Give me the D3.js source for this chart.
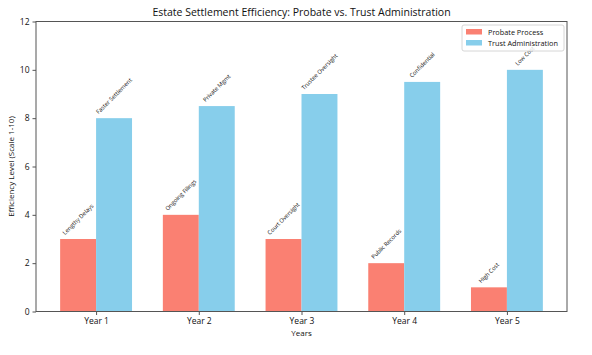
<!DOCTYPE html>
<html><head><meta charset="utf-8">
<script src="https://cdn.jsdelivr.net/npm/d3@7/dist/d3.min.js"></script>
<style>body{margin:0;background:#fff}svg{display:block;font-family:"Open Sans",Roboto,sans-serif}</style>
</head><body>
<svg id="c" width="592" height="355"></svg>
<script>
const categories = ["Year 1","Year 2","Year 3","Year 4","Year 5"];
const probateValues = [3,4,3,2,1];
const trustValues = [8,8.5,9,9.5,10];
const probateLabels = ["Lengthy Delays","Ongoing Filings","Court Oversight","Public Records","High Cost"];
const trustLabels = ["Faster Settlement","Private Mgmt","Trustee Oversight","Confidential","Low Cost"];
const yTicks = [0,2,4,6,8,10,12];
const seriesNames = ["Probate Process","Trust Administration"];
const colors = ["#FA8072","#87CEEB"];

const svg = d3.select("#c");
const L=36, R=567, T=21.5, B=311.5;
const bw = 0.35;
const x = d3.scaleLinear().domain([-0.585, 4.585]).range([L,R]);
const y = d3.scaleLinear().domain([0,12]).range([B,T]);

const series = [
  {vals: probateValues, labels: probateLabels, off: -bw/2, color: colors[0]},
  {vals: trustValues, labels: trustLabels, off: bw/2, color: colors[1]}
];
const g = svg.append("g");
series.forEach(s=>{
  g.selectAll(null).data(s.vals).enter().append("rect")
    .attr("x",(d,i)=>x(i+s.off-bw/2)).attr("width",x(bw)-x(0))
    .attr("y",d=>y(d)).attr("height",d=>B-y(d)).attr("fill",s.color);
});
// bar labels
const fs=5.8;
series.forEach(s=>{
  s.vals.forEach((d,i)=>{
    const cx = x(i+s.off);
    const t = g.append("text").text(s.labels[i]).attr("font-size",fs).attr("fill","#111")
      .attr("text-anchor","middle").attr("dominant-baseline","central");
    const w = t.node().getComputedTextLength();
    const hh = (w+fs*1.1)*Math.SQRT1_2;
    const cy = y(d) - 3 - hh/2;
    t.attr("transform",`translate(${cx},${cy}) rotate(-45)`);
  });
});
// spines
svg.append("rect").attr("x",L).attr("y",T).attr("width",R-L).attr("height",B-T)
  .attr("fill","none").attr("stroke","#555").attr("stroke-width",1);
// y axis
const ya = svg.append("g").attr("transform",`translate(${L},0)`)
  .call(d3.axisLeft(y).tickValues(yTicks).tickSize(3.5).tickPadding(3));
ya.select(".domain").remove();
ya.selectAll("line").attr("stroke","#555");
ya.selectAll("text").attr("font-size",8.5).attr("fill","#111").style("font-family","Open Sans,Roboto,sans-serif");
// x axis
const xa = svg.append("g").attr("transform",`translate(0,${B})`)
  .call(d3.axisBottom(x).tickValues(d3.range(categories.length)).tickFormat(i=>categories[i]).tickSize(3.5).tickPadding(3));
xa.select(".domain").remove();
xa.selectAll("line").attr("stroke","#555");
xa.selectAll("text").attr("font-size",8.5).attr("fill","#111").style("font-family","Open Sans,Roboto,sans-serif");
// titles
svg.append("text").attr("x",(L+R)/2).attr("y",16).attr("text-anchor","middle")
  .attr("font-size",10.5).attr("fill","#111").text("Estate Settlement Efficiency: Probate vs. Trust Administration");
svg.append("text").attr("x",(L+R)/2).attr("y",336).attr("text-anchor","middle")
  .attr("font-size",8).attr("fill","#111").text("Years");
svg.append("text").attr("transform",`translate(14,${(T+B)/2}) rotate(-90)`).attr("text-anchor","middle")
  .attr("font-size",8).attr("fill","#111").text("Efficiency Level (Scale 1-10)");
// legend
const lg = svg.append("g");
lg.append("rect").attr("x",462).attr("y",25).attr("width",102).attr("height",26).attr("rx",2)
  .attr("fill","#fff").attr("fill-opacity",0.8).attr("stroke","#ccc").attr("stroke-width",0.8);
seriesNames.forEach((n,i)=>{
  lg.append("rect").attr("x",466).attr("y",29+i*11).attr("width",16).attr("height",5.5).attr("fill",colors[i]);
  lg.append("text").attr("x",488).attr("y",34.5+i*11).attr("font-size",7.3).attr("fill","#111").text(n);
});
</script>
</body></html>
